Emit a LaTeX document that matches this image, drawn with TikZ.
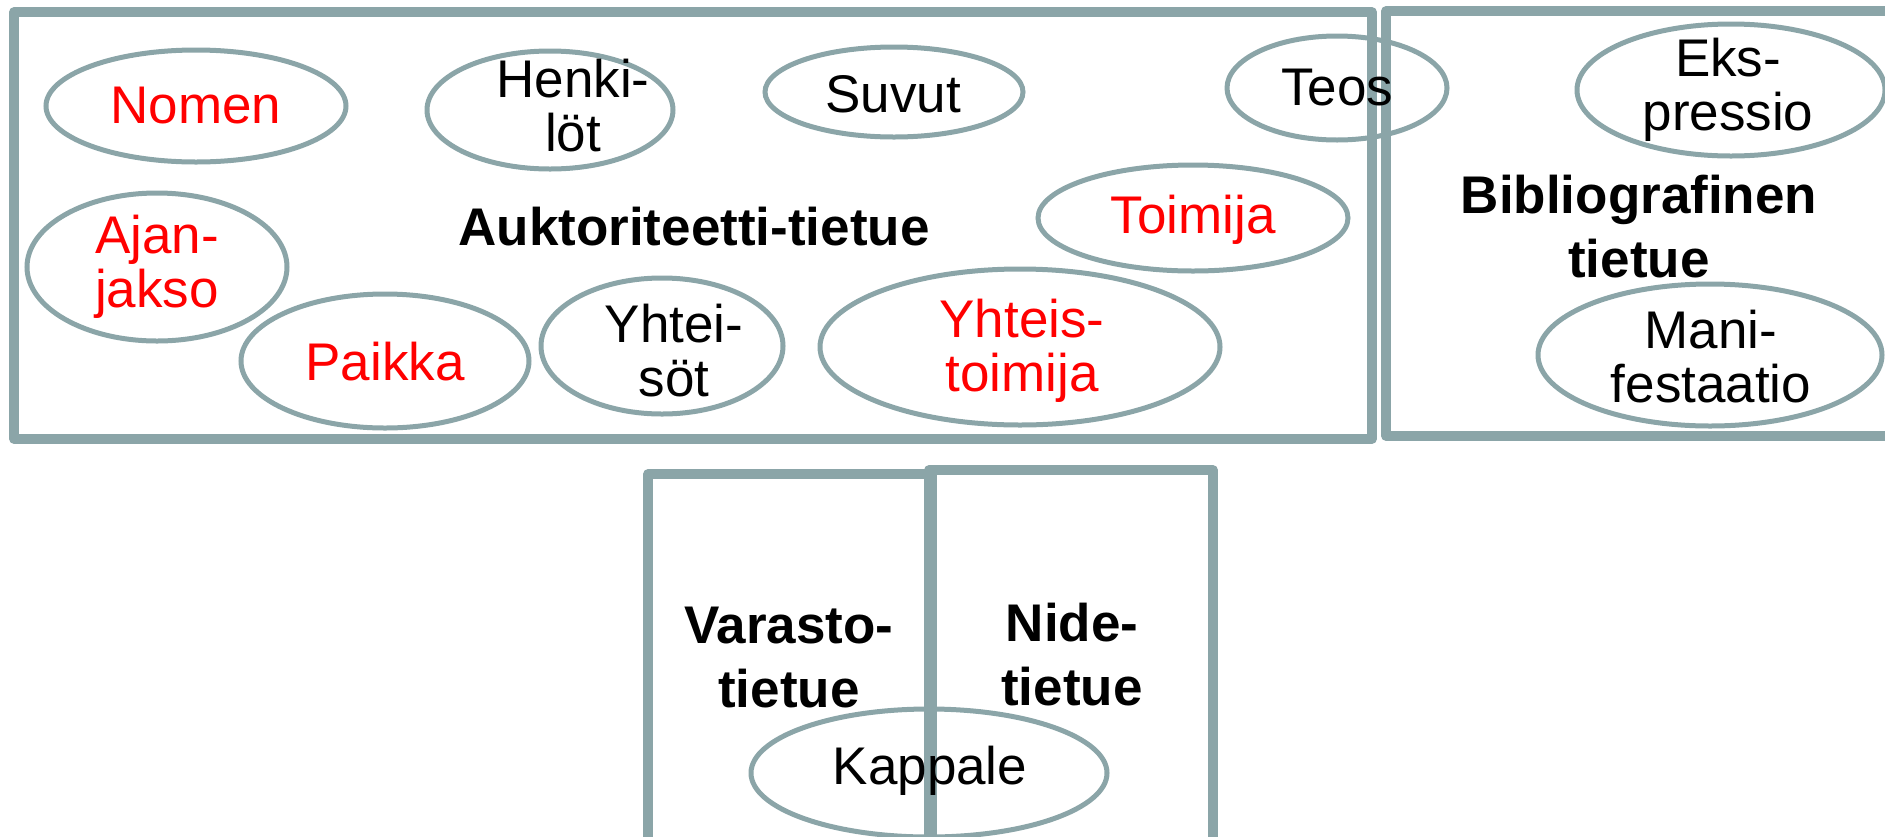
\documentclass[tikz,border=0pt]{standalone}
\usepackage{fontspec}
\setmainfont{Liberation Sans}
\definecolor{framegray}{RGB}{139,165,168}
\definecolor{redtxt}{RGB}{255,0,0}
\begin{document}
\begin{tikzpicture}[x=0.5pt,y=-0.5pt,
  ell/.style={draw=framegray,line width=2.5pt},
  frm/.style={draw=framegray,line width=4.8pt,line join=round},
  lbl/.style={inner sep=0pt,align=center,font=\fontsize{26.5pt}{27pt}\selectfont},
  rlbl/.style={lbl,text=redtxt},
  blbl/.style={inner sep=0pt,align=center,font=\fontsize{26.5pt}{32pt}\selectfont\bfseries}]
\useasboundingbox (0,0) rectangle (1885,836);
\begin{scope}
\clip (0,0) rectangle (1885,836);
% ellipses
\draw[ell] (196,106) ellipse [x radius=75pt, y radius=28pt];
\draw[ell] (550,110) ellipse [x radius=61.5pt, y radius=29.5pt];
\draw[ell] (894,92) ellipse [x radius=64.5pt, y radius=22.5pt];
\draw[ell] (1337,88) ellipse [x radius=55pt, y radius=26pt];
\draw[ell] (1731,90) ellipse [x radius=77pt, y radius=33pt];
\draw[ell] (157,267) ellipse [x radius=65pt, y radius=37pt];
\draw[ell] (1193,218) ellipse [x radius=77.5pt, y radius=26.5pt];
\draw[ell] (385,361) ellipse [x radius=72pt, y radius=33.5pt];
\draw[ell] (662,346) ellipse [x radius=60.5pt, y radius=34pt];
\draw[ell] (1020,347) ellipse [x radius=100pt, y radius=39pt];
\draw[ell] (1710,355) ellipse [x radius=86pt, y radius=35.5pt];
\draw[ell] (929,773) ellipse [x radius=89pt, y radius=32pt];
% frames
\draw[frm] (14,12) rectangle (1372,439);
\draw[frm] (1386,11) rectangle (1900,436);
\draw[frm] (648,474) rectangle (932,860);
\draw[frm] (929,470) rectangle (1213,860);
% text nodes
\node[rlbl] (nomen) at (196,106) {Nomen};
\node[lbl] (henk) at (573,106) {Henki-\\löt};
\node[lbl] (suvut) at (893,94) {Suvut};
\node[lbl] (teos) at (1337,88) {Teos};
\node[lbl] (eks) at (1728,90) {Eks-\\pressio};
\node[rlbl] (ajan) at (157,267) {Ajan-\\jakso};
\node[rlbl] (toim) at (1193,220) {Toimija};
\node[rlbl] (paik) at (385,362) {Paikka};
\node[lbl] (yht) at (674,351) {Yhtei-\\söt};
\node[rlbl] (ytoim) at (1022,351) {Yhteis-\\toimija};
\node[lbl] (mani) at (1711,357) {Mani-\\festaatio};
\node[lbl] (kapp) at (930,771) {Kappale};
\node[blbl] (aukt) at (694,227) {Auktoriteetti-tietue};
\node[blbl] (bibl) at (1639,227) {Bibliografinen\\tietue};
\node[blbl] (vara) at (789,658) {Varasto-\\tietue};
\node[blbl] (nide) at (1072,655) {Nide-\\tietue};
\end{scope}
\end{tikzpicture}
\end{document}
